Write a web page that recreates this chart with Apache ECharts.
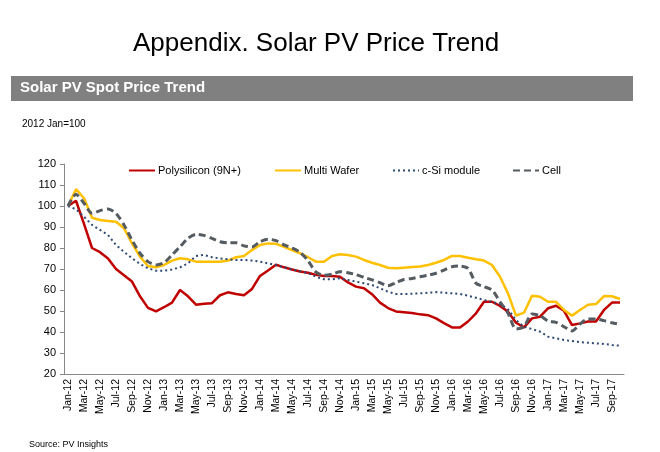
<!DOCTYPE html>
<html>
<head>
<meta charset="utf-8">
<script src="https://cdn.jsdelivr.net/npm/echarts@6/dist/echarts.min.js"></script>
<style>
html,body{margin:0;padding:0;background:#fff;}
#c{width:660px;height:452px;}
</style>
</head>
<body>
<div id="c"></div>
<script>
var categories = [
'Jan-12','Feb-12','Mar-12','Apr-12','May-12','Jun-12','Jul-12','Aug-12','Sep-12','Oct-12','Nov-12','Dec-12',
'Jan-13','Feb-13','Mar-13','Apr-13','May-13','Jun-13','Jul-13','Aug-13','Sep-13','Oct-13','Nov-13','Dec-13',
'Jan-14','Feb-14','Mar-14','Apr-14','May-14','Jun-14','Jul-14','Aug-14','Sep-14','Oct-14','Nov-14','Dec-14',
'Jan-15','Feb-15','Mar-15','Apr-15','May-15','Jun-15','Jul-15','Aug-15','Sep-15','Oct-15','Nov-15','Dec-15',
'Jan-16','Feb-16','Mar-16','Apr-16','May-16','Jun-16','Jul-16','Aug-16','Sep-16','Oct-16','Nov-16','Dec-16',
'Jan-17','Feb-17','Mar-17','Apr-17','May-17','Jun-17','Jul-17','Aug-17','Sep-17','Oct-17'
];
var polysilicon = [100,102.5,91.5,80,78,75,70,67,64,57,51.5,49.8,
51.8,54,60,57,53,53.5,53.7,57.5,58.9,58.1,57.5,60.5,
66.7,69.3,72,70.8,69.8,68.8,68.2,67.2,66.7,66.7,66.3,63.6,
61.6,60.8,58,54,51.4,49.8,49.4,49,48.4,48,46.5,44.2,
42.2,42.1,45,48.9,54.4,54.4,52.4,49.7,44.4,42.2,46.5,47.3,
51.3,52.5,50.1,43.3,44.1,45,45,50.5,54,54];
var multiWafer = [100,108,103.7,94.4,93.3,92.9,92.5,89.4,82.2,75.9,71.4,70.8,
71.9,74,75.1,74.6,73.5,73.5,73.5,73.5,74,75.6,76.2,79,
81.4,82.2,82,80.6,79,77.5,75.6,73.5,73.5,76.2,77,76.7,
75.9,74.3,73,71.9,70.6,70.3,70.6,70.9,71.2,71.9,73,74.3,
76.2,76.2,75.4,74.6,74,71.9,66.3,58.4,47.8,49.2,57.3,56.8,
54.4,54.4,50.5,47.8,50.5,53,53.3,57.1,57,55.7];
var cSiModule = [100,98.4,94.9,91,88.6,86.2,81.4,78.2,75.1,72.4,70.3,69.2,
69.2,69.8,70.8,72.7,76.2,76.7,75.6,75,74.6,74.3,74.3,74,
73.5,72.7,71.9,70.8,69.8,69,68,66.3,65.1,65.1,65.6,64.8,
64,63.2,62.4,60.8,59.2,58.1,58.1,58.2,58.4,58.7,59,58.7,
58.4,58.1,57.3,56.3,55.2,54.4,53.3,50.8,45.7,42.5,41.4,40.2,
37.8,37,36.2,35.7,35.2,34.9,34.6,34.3,33.8,33.5];
var cell = [100,105.6,101.3,96.5,97.8,98.6,96.5,91,83.8,77.5,73.5,71.9,
73,76.7,80.6,84.6,86.5,86,84.6,83,82.5,82.5,81,80.5,
83,84.2,83.5,81.5,80,78,74,68.5,67,67.5,68.7,68.2,
67.3,66,64.8,63.5,62,63.5,65,65.5,66.3,67,68,69.5,
71.1,71.4,70.3,63.2,61.6,60,54.4,48.9,41.4,42.5,48.6,47.8,
45.2,44.6,42.5,40.5,43.8,46.2,46.2,45.4,44.4,43.6];
var seriesNames = ['Polysilicon (9N+)','Multi Wafer','c-Si module','Cell'];

var FONT = '"Liberation Sans", Arial, sans-serif';
var NARROW = '"Liberation Sans Narrow", "Arial Narrow", "Liberation Sans", sans-serif';
var chart = echarts.init(document.getElementById('c'), null, {renderer:'canvas'});

function legendAt(name, left) {
  return {
    data: [name], left: left, top: 165, padding: 0, itemWidth: 26, itemHeight: 8, itemGap: 4,
    itemStyle: {opacity: 0},
    textStyle: {fontFamily: FONT, fontSize: 11, color: '#000', padding: [0, 0, 0, -2]},
    selectedMode: false
  };
}

var option = {
  animation: false,
  backgroundColor: '#fff',
  graphic: [
    {type:'text', left:133, top:31, style:{text:'Appendix. Solar PV Price Trend', font:'26px ' + FONT, fill:'#000'}},
    {type:'rect', shape:{x:11, y:76, width:622, height:25}, style:{fill:'#808080'}},
    {type:'text', left:20, top:80, style:{text:'Solar PV Spot Price Trend', font:'bold 15px ' + FONT, fill:'#fff'}},
    {type:'text', left:22, top:119, style:{text:'2012 Jan=100', font:'10px ' + NARROW, fill:'#000'}},
    {type:'text', left:29, top:440, style:{text:'Source: PV Insights', font:'9px ' + FONT, fill:'#000'}}
  ],
  legend: [
    legendAt(seriesNames[0], 128),
    legendAt(seriesNames[1], 274),
    legendAt(seriesNames[2], 392),
    legendAt(seriesNames[3], 512)
  ],
  grid: {left:64, right:36, top:164, bottom:78, containLabel:false},
  xAxis: {
    type:'category', data:categories, boundaryGap:true,
    axisLine:{lineStyle:{color:'#888', width:1}},
    axisTick:{interval:1, length:4, lineStyle:{color:'#888'}},
    axisLabel:{interval:1, rotate:90, fontFamily:FONT, fontSize:10.5, color:'#000', margin:5}
  },
  yAxis: {
    type:'value', min:20, max:120, interval:10,
    axisLine:{show:true, lineStyle:{color:'#888', width:1}},
    axisTick:{show:true, length:4, lineStyle:{color:'#888'}},
    splitLine:{show:false},
    axisLabel:{fontFamily:FONT, fontSize:11, color:'#000', margin:8}
  },
  series: [
    {name:seriesNames[0], type:'line', data:polysilicon, symbol:'none', color:'#C00000',
      lineStyle:{color:'#C00000', width:2.5}},
    {name:seriesNames[1], type:'line', data:multiWafer, symbol:'none', color:'#FFC000',
      lineStyle:{color:'#FFC000', width:2.5}},
    {name:seriesNames[2], type:'line', data:cSiModule, symbol:'none', color:'#2E4A74',
      lineStyle:{color:'#2E4A74', width:2, type:[2,3]}},
    {name:seriesNames[3], type:'line', data:cell, symbol:'none', color:'#545B61', smooth:0.25,
      lineStyle:{color:'#545B61', width:3, type:[7,4]}}
  ]
};
chart.setOption(option);
</script>
</body>
</html>
